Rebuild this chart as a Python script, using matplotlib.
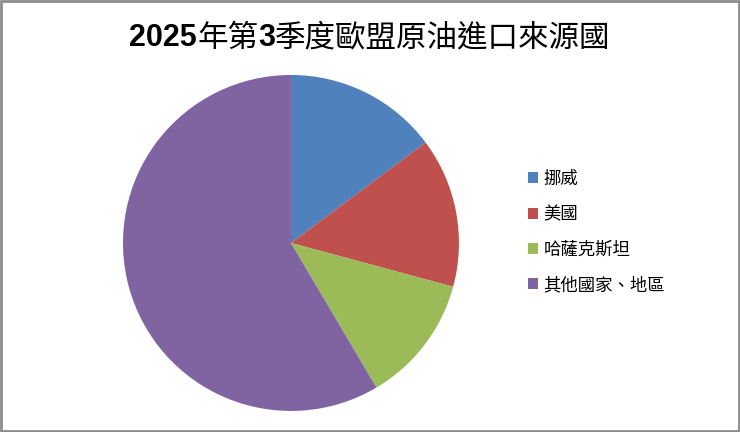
import matplotlib
matplotlib.use("Agg")
import matplotlib.pyplot as plt
from matplotlib.patches import Rectangle
from matplotlib.offsetbox import TextArea, HPacker, AnchoredOffsetbox

plt.rcParams['font.family'] = ['Noto Sans CJK TC', 'DejaVu Sans']

categories = ['挪威', '美國', '哈薩克斯坦', '其他國家、地區']
shares = [14.8, 14.4, 12.3, 58.5]
colors = ['#4F81BD', '#C0504D', '#9BBB59', '#8064A2']

fig = plt.figure(figsize=(7.4, 4.32), dpi=100)
ax = fig.add_axes([0.1662, 0.0486, 0.454, 0.778])
wedges, _ = ax.pie(shares, colors=colors, startangle=90, counterclock=False,
                   radius=1.0, wedgeprops=dict(linewidth=0))
ax.set_xlim(-1, 1)
ax.set_ylim(-1, 1)
ax.set_aspect('equal')
ax.axis('off')

# Title: bold digits, regular CJK
parts = [('2025', 'bold'), ('年第', 'normal'), ('3', 'bold'), ('季度歐盟原油進口來源國', 'normal')]
boxes = [TextArea(t, textprops=dict(fontsize=22, fontweight=w,
                                    family=['Liberation Sans', 'Noto Sans CJK TC'] if w == 'bold' else ['Noto Sans CJK TC']))
         for t, w in parts]
pack = HPacker(children=boxes, pad=0, sep=0, align='baseline')
ab = AnchoredOffsetbox(loc='center', child=pack, frameon=False,
                       bbox_to_anchor=(0.5, 1 - 38 / 432), bbox_transform=fig.transFigure, pad=0, borderpad=0)
fig.add_artist(ab)

leg = fig.legend(wedges, categories, loc='upper left', bbox_to_anchor=(528 / 740, 1 - 170 / 432),
                 frameon=False, fontsize=12.5, handlelength=0.6, handleheight=0.6,
                 handletextpad=0.3, labelspacing=1.0, borderaxespad=0, borderpad=0)

fig.add_artist(Rectangle((0.0015, 0.0025), 0.997, 0.995, transform=fig.transFigure,
                         fill=False, edgecolor='#8C8C8C', linewidth=2))

fig.savefig('out.png', dpi=100)
